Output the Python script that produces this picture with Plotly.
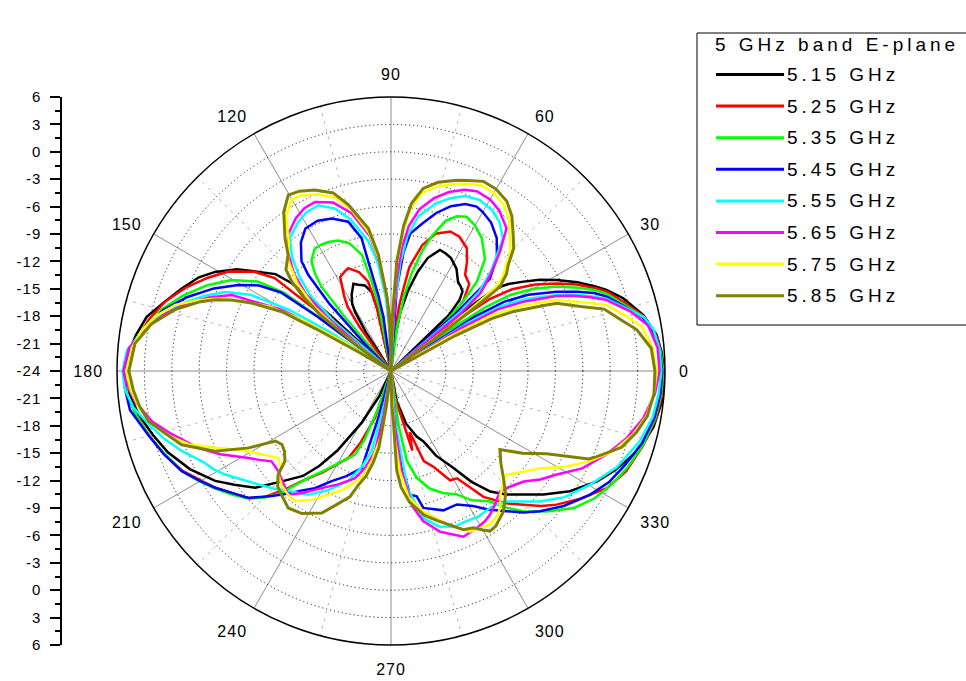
import plotly.graph_objects as go

# E-plane radiation patterns, 5 GHz band: (angle in degrees, gain in dB)
black_515 = [(0,5.9),(4,5.7),(7.7,5.35),(12.5,4.3),(17.4,2.65),(20.6,1.2),(22.3,0.3),(25.5,-1.4),(28.8,-3.3),(31.5,-4.9),(34,-6.5),(36.5,-8.0),(38.2,-9.3),(39.5,-14),(40.5,-24),(43,-24),(44,-15.2),(46,-13.2),(48,-12.3),(50.5,-12.0),(53,-11.8),(57.4,-10.7),(62,-10.0),(65,-9.8),(68,-9.7),(72,-11.0),(75,-12.8),(78,-15.0),(81,-17.5),(84,-21),(86,-24),
             (101,-24),(102.5,-17),(103.7,-15.1),(107,-14.2),(110.8,-13.9),(113.3,-13.6),(117.3,-14.6),(120,-15.5),(121.3,-16.4),(123,-19),(124,-24),(136.5,-24),(137.5,-15),(138.5,-9.5),(140,-7.5),(143.2,-5.9),(146.5,-3.8),(150.6,-1.9),(154,-0.6),(158.4,0.6),(163,1.9),(167.5,3.4),(172,4.2),(176,4.8),(180,5.0),
             (185,4.8),(190,4.0),(195,3.0),(200,2.0),(206,0.5),(212,-1.3),(216,-2.8),(220.7,-4.4),(225.3,-7.0),(230,-9.0),(233,-11.0),(236,-13.5),(240.5,-17.5),(245,-21),(249,-24),
             (277,-24),(280.7,-20.6),(286,-18),(291.4,-16.3),(294.7,-15.5),(298,-13.5),(302.6,-11.5),(306,-9.0),(309.5,-6.9),(313,-5.5),(316.9,-4.2),(321,-2.5),(326.1,-0.4),(331.8,1.6),(336,2.8),(340,3.8),(343,4.6),(348,5.4),(354,5.9),(360,5.9)]

red_525 = [(0,5.8),(4,5.6),(7,5.4),(12,4.4),(16.5,2.6),(20.2,1.2),(22,0.2),(25,-1.6),(27.9,-3.5),(31,-5.6),(34,-8.0),(36,-10.5),(37.5,-15),(38.5,-24),(40,-24),(41,-16.9),(44,-13),(48,-11.2),(52.4,-10.7),(55,-9.5),(58.3,-8.2),(63,-7.5),(67,-7.4),(72,-8.2),(76,-9.8),(78.6,-11.6),(80,-12.5),(81.5,-15),(83,-17),(85,-21),(86.5,-24),
           (101,-24),(102.5,-17),(104.3,-13.9),(108,-12.6),(112.6,-11.8),(115,-12.0),(118.4,-12.3),(120,-13.3),(122,-14.3),(124,-15.5),(125.5,-18),(127,-24),(139.5,-24),(140.8,-15),(141.4,-7.7),(144,-5.5),(148.6,-3.1),(153,-1.5),(158,0.3),(163,1.9),(168,3.1),(174,4.3),(180,5.1),
           (185,5.0),(190,4.3),(195,3.4),(200.3,2.4),(205.6,1.3),(210,0.0),(213.6,-0.9),(218,-2.2),(221.7,-3.1),(225,-4.5),(228,-6.5),(231,-8.5),(236,-10.6),(240,-12.2),(243.9,-13.4),(247,-15.5),(251.2,-18.6),(254,-24),
           (276,-24),(279,-21),(283,-18.5),(285,-15),(287,-17),(290,-13.5),(294,-12.5),(298.4,-10.4),(301.6,-10.2),(306.3,-6.9),(308.5,-6.0),(311,-4.8),(314.7,-3.4),(318,-1.9),(321.1,-0.7),(326,1.0),(331.5,2.9),(337,4.0),(343.7,4.8),(350,5.5),(355,5.8),(360,5.8)]

green_535 = [(0,5.8),(4,5.6),(7,5.3),(12,4.3),(16,2.5),(19.6,1.1),(21.5,0.1),(24,-1.6),(27,-3.6),(30,-6.0),(32.5,-8.5),(34,-11.5),(35,-16),(36,-24),(39,-24),(41,-17),(44,-13),(46.2,-10.4),(50,-8.0),(55.6,-6.4),(60,-5.6),(63.9,-5.2),(67,-5.6),(70,-6.5),(73,-8.5),(75.5,-10.5),(78,-13),(80,-15.5),(82,-19),(84,-24),
             (99,-24),(100.5,-17),(102.2,-14),(104,-10.9),(108,-9.3),(112,-8.6),(115.9,-8.3),(119,-8.2),(121.8,-8.2),(124,-8.7),(126,-9.2),(128,-10.5),(129.5,-12),(130.5,-16),(131.5,-24),(142,-24),(143,-16),(143.8,-9.5),(146,-6.5),(150.3,-3.9),(155,-1.8),(160,0.2),(165,2.0),(170,3.4),(175,4.5),(180,5.1),
             (185,5.0),(190,4.3),(195,3.4),(200,2.4),(205.6,1.4),(210,0.2),(213.6,-0.8),(218,-2.0),(221.7,-3.0),(225,-4.4),(228,-6.0),(232.3,-9.2),(236,-10.8),(240,-12.3),(246.7,-14),(249,-16),(251,-19.7),(254,-24),
             (275,-24),(278,-18),(280,-14),(283.5,-12),(288,-10.5),(293,-9.5),(298,-8.7),(302,-7.3),(307.2,-6.1),(310,-4.5),(313.3,-2.9),(318,-1.0),(323.1,1.0),(328,2.3),(333,3.2),(338,4.0),(344,4.8),(350,5.4),(355,5.7),(360,5.8)]

blue_545 = [(0,5.7),(4,5.5),(7,5.3),(12,4.2),(15.5,2.5),(19,1.0),(21,-0.2),(23,-1.8),(25.6,-3.9),(29,-6.8),(31.5,-9.5),(33,-13),(34,-24),
            (40,-24),(41.5,-15),(43,-9.2),(47,-7.0),(51.5,-5.4),(56,-4.4),(60,-3.9),(62.5,-3.7),(66,-4.0),(70,-4.8),(74,-6.0),(78,-7.5),(82,-8.8),(84,-11),(86,-15),(88,-24),
            (95,-24),(98,-18),(99.5,-15.6),(101.7,-11.8),(102.5,-9.1),(106,-7.0),(111.2,-6.1),(116,-5.7),(121,-5.8),(125,-6.8),(129.2,-8.5),(130.7,-10.1),(132.5,-14),(134,-20),(135,-24),
            (142.5,-24),(143.5,-14),(144.5,-9.2),(147,-6.8),(150.6,-4.8),(155,-2.6),(160,-0.3),(165,1.8),(170,3.3),(175,4.6),(180,5.2),
            (183.7,5.2),(188.5,4.9),(194.7,3.5),(200,2.5),(205.6,1.4),(210,0.1),(213.6,-0.9),(218,-2.2),(221.7,-3.1),(226.4,-5.1),(230,-6.5),(233,-7.6),(237,-8.7),(241.7,-10.3),(247,-11.5),(253.2,-12.9),(254.9,-18.7),(256,-24),
            (274,-24),(275.1,-17),(277,-13),(278.7,-10.3),(281.6,-10.0),(283.3,-8.6),(290.6,-7.7),(296.3,-7.7),(301.3,-6.7),(305,-5.5),(309.5,-4.1),(313,-2.8),(316.7,-1.6),(322,0.0),(328.1,1.65),(333,2.8),(338,3.6),(344,4.6),(350,5.3),(355,5.6),(360,5.7)]

cyan_555 = [(0,5.6),(4.5,5.5),(9,5.1),(12,4.3),(14,3.2),(18.5,0.9),(20.5,-0.6),(22.5,-2.2),(24.6,-4.0),(28,-7.2),(30.5,-10),(32,-14),(33,-24),
            (39,-24),(40.5,-14),(42,-11),(45,-8.5),(49.8,-5.0),(54,-3.8),(58,-3.2),(62.5,-2.9),(67,-3.2),(71,-4.0),(75,-5.0),(80,-6.8),(83,-9),(85,-12),(87,-17),(88.5,-24),
            (90,-24),(92,-20),(94,-16),(97,-12),(100,-9.5),(105,-6.8),(109,-5.2),(113.6,-4.2),(118,-4.3),(122,-4.8),(127.3,-5.7),(131,-7.5),(134,-9.5),(137,-12),(139,-16),(140.5,-24),
            (146,-24),(147.5,-16),(149,-11),(151.5,-6.5),(154.5,-3.9),(158,-2.0),(162,0.0),(166,1.8),(170,3.4),(175.5,5.0),(180,5.4),
            (184,5.2),(188,4.5),(193,3.0),(197,1.8),(201,0.5),(206,-1.2),(209,-1.8),(212,-2.6),(216,-3.8),(220.6,-4.9),(225,-5.8),(230,-6.8),(236.2,-7.7),(242,-9.2),(248.8,-11.1),(253,-13),(256.5,-15),(258.8,-20.6),(260,-24),
            (273,-24),(275,-18),(278,-11),(282.4,-7.5),(287,-6.2),(292,-5.6),(296.7,-5.6),(301,-5.4),(305.9,-5.5),(308.5,-5.3),(311.6,-4.9),(315,-3.8),(318.8,-2.3),(324,-0.5),(330.3,1.1),(337,2.9),(344.2,4.3),(350,5.1),(355,5.4),(360,5.6)]

magenta_565 = [(0,5.4),(5,5.3),(10,4.6),(14,3.0),(18.3,0.8),(20.3,-0.7),(22.5,-2.5),(24.4,-4.1),(27.5,-7.5),(30,-10.5),(31.5,-15),(32.5,-24),
               (38,-24),(39.5,-14),(41,-11),(44,-8.9),(47.6,-6.3),(51,-3.9),(56,-2.8),(60,-2.3),(64.5,-2.2),(68,-2.6),(72,-3.4),(76,-4.5),(80,-6.0),(83,-8.0),(85,-10.5),(86.5,-14),(88,-20),(89,-24),
               (90,-24),(91.5,-20),(93,-16),(96,-12),(99,-9),(104,-6.2),(109,-4.5),(114.2,-3.7),(118,-3.8),(122,-4.3),(127,-5.3),(131,-6.8),(135,-9),(138,-11.5),(140,-15),(141.5,-20),(142.5,-24),
               (148,-24),(149.5,-16),(151,-10),(154.5,-4.7),(158,-2.5),(162,-0.3),(166,1.6),(170,3.2),(175,4.8),(180,5.3),
               (183,5.0),(187.2,4.1),(192,2.7),(196,1.0),(201.8,-1.3),(206,-3.2),(211.4,-5.7),(214,-6.6),(217.1,-7.6),(221.7,-7.5),(226,-7.0),(230.3,-6.4),(234,-7.5),(239.4,-9.1),(245,-10.3),(251.4,-11.6),(255,-13),(258.7,-15),(260.5,-19),(262,-24),
               (272,-24),(274,-18),(276,-13),(279,-9),(282.1,-7.2),(287,-5.6),(293.6,-4.2),(298.6,-4.4),(302,-4.6),(304.6,-4.9),(308,-5.5),(312.2,-6.2),(316,-5.8),(320.2,-5.1),(324,-3.8),(328,-2.6),(333,-0.5),(338.8,1.3),(344,2.8),(349.4,4.1),(355,5.0),(360,5.4)]

yellow_575 = [(0,5.1),(5,4.8),(10,3.9),(13,2.5),(17,0.7),(19.5,-1.5),(23.2,-4.3),(26.5,-8),(29,-11.5),(30.5,-17),(31.5,-24),
              (35.5,-24),(37,-16),(38.5,-9.5),(40,-8.0),(42,-7.2),(45,-5.5),(48,-4.5),(52,-3.0),(56,-2.0),(60,-1.5),(64,-1.4),(68,-1.9),(72,-2.5),(76,-3.2),(80,-4.2),(83,-6),(85,-8.5),(87,-12.5),(88.5,-18),(90,-24),
              (91.5,-18),(93.3,-16),(96,-11.8),(99,-8.7),(104,-5.7),(108,-4.0),(113,-3.0),(117,-2.4),(120,-2.3),(124,-3.5),(128,-5.8),(133,-7.5),(137,-10),(140,-13),(142,-17),(143.5,-24),
              (147,-24),(148.5,-18),(150,-13),(152,-9),(154.5,-6.5),(157.6,-3.2),(160,-1.4),(163,0.7),(167,2.5),(171,3.7),(175,4.5),(180,5.0),
              (184,4.6),(188,3.9),(192,3.0),(196,1.5),(200,-0.5),(203.6,-3.0),(208,-5.5),(213.6,-7.4),(217.7,-8.4),(221,-8.0),(223,-7.2),(226.1,-6.7),(230,-6.4),(233.6,-6.3),(238,-7.3),(243.1,-8.8),(248,-10),(254.7,-11.9),(258,-14),(261.7,-17),(263.5,-21),(265,-24),
              (271,-24),(273,-17),(275,-13),(278,-10),(283,-8.2),(290,-6.2),(296.2,-4.4),(302.8,-4.0),(306,-4.3),(308.5,-4.8),(311,-5.8),(315,-6.6),(318.1,-7.0),(322,-6.0),(326.9,-4.5),(331,-2.3),(335.6,-0.1),(340,1.8),(345.3,3.4),(350,4.4),(355,4.9),(360,5.1)]

olive_585 = [(0,4.9),(5,4.6),(9.5,3.3),(13,1.6),(16.2,0.3),(18.8,-2.1),(22.2,-4.4),(23,-5.5),(25.9,-9.1),(27.5,-11.5),(28.8,-16),(29.8,-24),
             (35.5,-24),(36.5,-17),(37.2,-12),(37.7,-8.9),(40,-7.5),(42.1,-6.7),(45,-5.0),(48,-4.0),(52,-2.5),(55.7,-1.5),(60,-1.0),(64,-0.9),(68,-1.5),(71,-1.9),(76,-2.7),(80,-3.7),(83,-5.5),(85,-8),(87,-12),(88.5,-18),(90,-24),
             (91.5,-18),(93.3,-15.7),(96.2,-11.2),(99,-8.2),(104.4,-5.2),(108,-3.5),(112.8,-2.5),(117,-1.9),(120.3,-1.7),(124,-3.0),(128.6,-5.4),(131.5,-7.0),(136,-8.0),(138,-9.4),(139.6,-11.2),(141.5,-14),(143,-19),(144.5,-24),
             (148,-24),(149.5,-20),(150.7,-14.5),(151.5,-10.4),(154,-7),(156,-4.9),(158,-3.2),(160,-1.8),(164,0.5),(168.8,2.7),(173.9,4.2),(180,4.7),
             (184.2,4.3),(188,3.8),(191.7,3.1),(195,1.8),(199.4,0.3),(204.5,-2.8),(208.4,-6.3),(211.2,-9.2),(214,-9.6),(217,-9.4),(220.4,-8.75),(222.6,-7.2),(225.5,-6.3),(228.5,-5.9),(233.1,-5.25),(238,-5.6),(244,-6.7),(247,-7.9),(251.9,-9.5),(254,-11),(256.7,-12.2),(259,-13.8),(261,-15.5),(262.5,-20),(263.5,-24),
             (270,-24),(271.5,-20),(272.7,-18.6),(273.3,-13.1),(275,-11.2),(278,-9.5),(283,-7.8),(287,-6.9),(294.5,-4.9),(297.7,-4.6),(300,-3.9),(301.7,-3.4),(304,-3.5),(308.7,-4.3),(313,-5.6),(316.4,-7.0),(320,-8.3),(324.2,-9.3),(328,-7.0),(332,-4.7),(336,-0.3),(337.4,0.4),(341.7,2.6),(346,3.7),(350,4.5),(355,4.9),(360,4.9)]

series_names = ["5.15 GHz", "5.25 GHz", "5.35 GHz", "5.45 GHz",
                "5.55 GHz", "5.65 GHz", "5.75 GHz", "5.85 GHz"]
series_data = [black_515, red_525, green_535, blue_545,
               cyan_555, magenta_565, yellow_575, olive_585]
series_colors = ["#000000", "#ff0000", "#00ff00", "#0000ff",
                 "#00ffff", "#ff00ff", "#ffff00", "#808000"]
legend_title = "5 GHz band E-plane"

# radial scale (dB) and angular ticks
r_min, r_max, r_step = -24, 6, 3
angle_ticks = list(range(0, 360, 30))
minor_spokes = list(range(15, 360, 30))

W, H = 966, 681
FONT = "Liberation Sans, Arial, sans-serif"


def spaced(text, px):
    return '<span style="letter-spacing:%spx">%s</span>' % (px, text)


# plot-area geometry in pixels
cx0, cx1 = 117, 665
cy_top, cy_bot = 97, 645
dom_x = [cx0 / W, cx1 / W]
dom_y = [1 - cy_bot / H, 1 - cy_top / H]

fig = go.Figure()

# dashed light spokes every 30 degrees, offset by 15
for a in minor_spokes:
    fig.add_trace(go.Scatterpolar(
        r=[r_min, r_max], theta=[a, a], mode="lines",
        line=dict(color="#b8b8b8", width=1, dash="3px,5px"),
        hoverinfo="skip", showlegend=False))

for name, pts, col in zip(series_names, series_data, series_colors):
    fig.add_trace(go.Scatterpolar(
        theta=[p[0] for p in pts], r=[p[1] for p in pts],
        mode="lines", name=name,
        line=dict(color=col, width=3 if col == "#808000" else 2.5),
        showlegend=False))

# mirrored linear gain scale on the left
ticks_db = list(range(r_min, r_max + 1, r_step))
span = r_max - r_min
tick_pos = sorted(set([d - r_min for d in ticks_db] + [-(d - r_min) for d in ticks_db]))
tick_txt = [spaced(str(int(r_min + abs(p))), 1) for p in tick_pos]
minor_pos = [p + r_step / 2 for p in tick_pos[:-1]]

fig.add_trace(go.Scatter(x=[], y=[], xaxis="x", yaxis="y", showlegend=False))

fig.update_layout(
    width=W, height=H, autosize=False,
    margin=dict(l=0, r=0, t=0, b=0, pad=0, autoexpand=False),
    paper_bgcolor="white", plot_bgcolor="rgba(0,0,0,0)",
    font=dict(family=FONT, color="black"),
    showlegend=False,
    polar=dict(
        domain=dict(x=dom_x, y=dom_y),
        bgcolor="white",
        radialaxis=dict(range=[r_min, r_max], tick0=r_min, dtick=r_step,
                        showticklabels=False, ticks="", showline=False,
                        showgrid=True, gridcolor="black", griddash="1px,3px", gridwidth=1),
        angularaxis=dict(rotation=0, direction="counterclockwise",
                         tickmode="array", tickvals=angle_ticks,
                         ticktext=[spaced(str(a), 1) for a in angle_ticks],
                         showline=True, linecolor="black", linewidth=1.5,
                         showgrid=True, gridcolor="#8c8c8c", gridwidth=1,
                         ticks="outside", ticklen=10, tickcolor="rgba(0,0,0,0)",
                         tickfont=dict(family=FONT, size=16, color="black")),
    ),
    xaxis=dict(domain=[62 / W, 0.1], visible=False, range=[0, 1]),
    yaxis=dict(domain=dom_y, range=[-span, span], anchor="x", side="left",
               showline=True, linecolor="black", linewidth=1.5,
               ticks="outside", ticklen=10, tickwidth=1.5, tickcolor="black",
               tickmode="array", tickvals=tick_pos, ticktext=tick_txt,
               ticklabelstandoff=6,
               minor=dict(tickmode="array", tickvals=minor_pos, ticks="outside",
                          ticklen=5, tickwidth=1.5, tickcolor="black"),
               showgrid=False, zeroline=False, automargin=False,
               tickfont=dict(family=FONT, size=15, color="black")),
)

# legend box
lg_left, lg_top, lg_bot = 697, 33, 325
shapes = [dict(type="rect", xref="paper", yref="paper",
               x0=lg_left / W, x1=1.02, y0=1 - lg_bot / H, y1=1 - lg_top / H,
               line=dict(color="black", width=1), fillcolor="white", layer="above")]
annotations = [dict(xref="paper", yref="paper", x=713 / W, y=1 - 45 / H,
                    xanchor="left", yanchor="middle", showarrow=False,
                    text=spaced(legend_title, 4),
                    font=dict(family=FONT, size=19, color="black"))]
row0, row_gap = 74.5, 31.6
for i, (name, col) in enumerate(zip(series_names, series_colors)):
    yy = 1 - (row0 + i * row_gap) / H
    shapes.append(dict(type="line", xref="paper", yref="paper",
                       x0=716 / W, x1=784 / W, y0=yy, y1=yy,
                       line=dict(color=col, width=3), layer="above"))
    annotations.append(dict(xref="paper", yref="paper", x=785 / W, y=yy,
                            xanchor="left", yanchor="middle", showarrow=False,
                            text=spaced(name, 4),
                            font=dict(family=FONT, size=19, color="black")))
fig.update_layout(shapes=shapes, annotations=annotations)

fig.write_html("out.html", config={"displayModeBar": False})
